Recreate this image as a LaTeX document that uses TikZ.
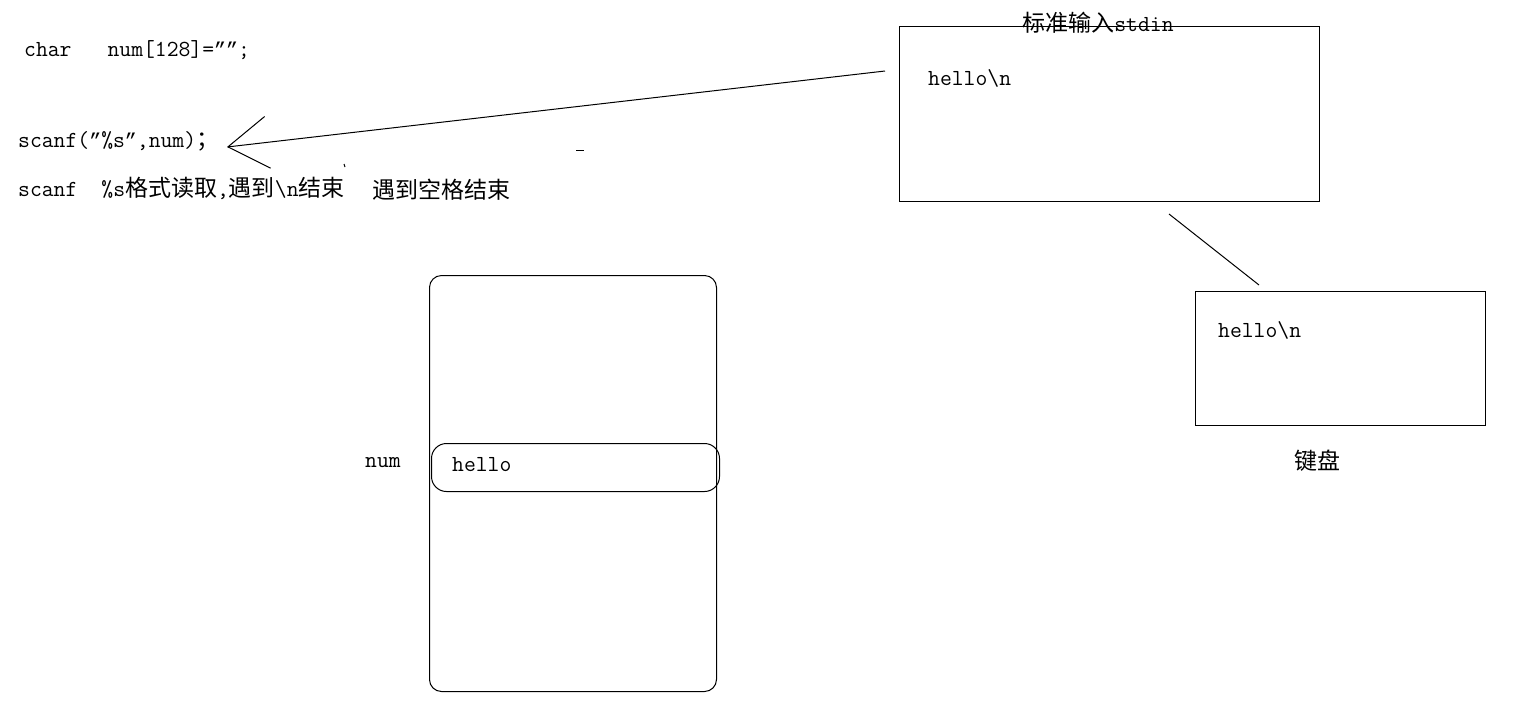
\documentclass[tikz,border=0pt]{standalone}
\usepackage{fontspec}
\newfontfamily\cjk{Noto Sans CJK SC}
\newfontfamily\qfont{Liberation Mono}
\usetikzlibrary{arrows.meta, positioning}
\newcommand{\zh}[1]{{\cjk\fontsize{23}{23}\selectfont #1}}
\newcommand{\cquote}{{\qfont\fontsize{20}{20}\selectfont ”}}

\begin{document}
\begin{tikzpicture}[
    x=1pt, y=-1pt,
    txt/.style={inner sep=0pt, anchor=west, font=\ttfamily\fontsize{23}{23}\selectfont},
    zhtxt/.style={inner sep=0pt, font=\cjk\fontsize{23}{23}\selectfont},
    box/.style={rectangle, draw, line width=1pt, inner sep=0pt, anchor=north west},
    membox/.style={box, rounded corners=12pt},
    cellbox/.style={box, rounded corners=15pt},
    link/.style={line width=1pt},
    arrow/.style={-{Straight Barb[length=40pt, width=52pt]}, line width=1pt}
]
\useasboundingbox (0,0) rectangle (1532,716);

% code on the left
\node[txt] (decl) at (24,50) {char\hspace{36pt}num[128]=\cquote\cquote;};
\node[txt] (call) at (18,141) {scanf(\cquote\%s\cquote,num)\zh{；}};
\node[txt] (rule) at (18,188) {scanf\hspace{24pt}\%s\zh{格式读取},\zh{遇到}\textbackslash n\zh{结束}};
\node[zhtxt, anchor=west] (spacenote) at (372,190) {遇到空格结束};

% stdin buffer
\node[box, minimum width=420pt, minimum height=175pt] (stdin) at (899,26) {};
\node[txt, anchor=center] (stdintitle) at (1098,23) {\zh{标准输入}stdin};
\node[txt] (stdinbuf) at (928,78) {hello\textbackslash n};

% keyboard
\node[box, minimum width=290pt, minimum height=134pt] (kbd) at (1195,291) {};
\node[txt] (kbdbuf) at (1218,330) {hello\textbackslash n};
\node[zhtxt, below=24pt of kbd, xshift=-23pt] (kbdlabel) {键盘};

% memory of num
\node[membox, minimum width=287pt, minimum height=416pt] (mem) at (429,275) {};
\node[cellbox, minimum width=288pt, minimum height=48pt] (cell) at (431,443) {};
\node[txt] (cellval) at (452,465) {hello};
\node[txt] (numlabel) at (365,463) {num};

% connectors
\coordinate (readfrom) at (885,71);
\coordinate (readto) at (227,147);
\draw[arrow] (readfrom) -- (readto);

\coordinate (linkA) at (1169,214);
\coordinate (linkB) at (1259,285);
\draw[link] (linkA) -- (linkB);

% stray marks
\draw[link] (576,150) -- (584,150);
\draw[link] (344,164) -- (345,167);

\end{tikzpicture}
\end{document}
